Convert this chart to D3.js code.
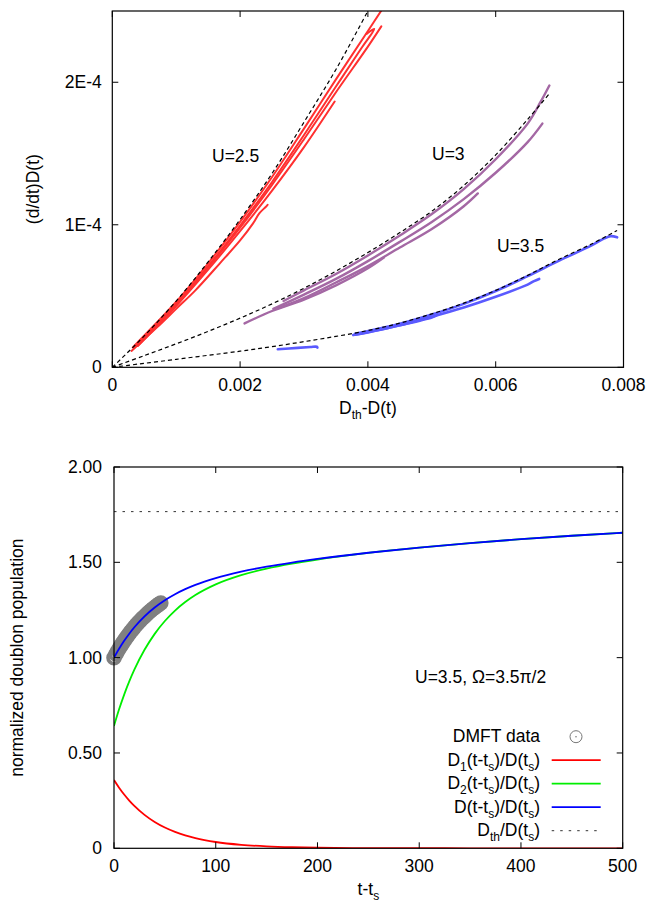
<!DOCTYPE html>
<html><head><meta charset="utf-8">
<script src="https://cdn.jsdelivr.net/npm/d3@7/dist/d3.min.js"></script>
<style>
body{margin:0;background:#fff}
svg{display:block}
text{font-family:"Liberation Sans",Arial,Helvetica,sans-serif;font-size:17.5px;fill:#000}
</style>
</head><body>
<svg id="c" width="646" height="903"></svg>
<script>
// ---------------- DATA (top panel: x = Dth-D(t), y = (d/dt)D(t) in units of 1E-5) ----------------
const topXTicks = [0, 0.002, 0.004, 0.006, 0.008];
const topXTickLabels = ["0", "0.002", "0.004", "0.006", "0.008"];
const topYTicks = [0, 10, 20];
const topYTickLabels = ["0", "1E-4", "2E-4"];

// fits (black dashed)
const fitU25 = [[0,0],[0.0005,2.2],[0.001,4.65],[0.0015,7.4],[0.002,10.37],[0.0025,13.6],[0.003,17.2],[0.0035,20.9],[0.004,25.0],[0.0042,26.7]];
const fitU3  = [[0,0],[0.0005,0.82],[0.001,1.65],[0.0015,2.52],[0.002,3.45],[0.0025,4.45],[0.003,5.55],[0.0035,6.75],[0.004,8.05],[0.0045,9.45],[0.005,10.95],[0.0055,12.75],[0.006,14.9],[0.0065,17.4],[0.00685,19.25]];
const fitU35 = [[0,0],[0.001,0.56],[0.002,1.13],[0.0025,1.45],[0.003,1.8],[0.0035,2.17],[0.004,2.58],[0.0045,3.1],[0.005,3.75],[0.0055,4.5],[0.006,5.4],[0.0065,6.45],[0.007,7.6],[0.0075,8.65],[0.0079,9.6]];

// DMFT curves U=2.5 (red)
const u25a = [[0.00032,1.4],[0.001,4.6],[0.0015,7.3],[0.002,10.2],[0.0025,13.35],[0.003,16.75],[0.0035,20.2],[0.004,23.6],[0.00425,25.3]];
const u25b = [[0.00035,1.4],[0.001,4.45],[0.0015,7.1],[0.002,9.95],[0.0025,13.0],[0.003,16.3],[0.0035,19.7],[0.0039,22.4],[0.0041,23.74],[0.00398,23.39]];
const u25c = [[0.0004,1.5],[0.001,4.4],[0.0015,7.0],[0.002,9.8],[0.0025,12.8],[0.003,16.0],[0.0035,19.3],[0.004,22.5],[0.00421,23.92]];
const u25d = [[0.0004,1.5],[0.001,4.3],[0.0015,6.85],[0.002,9.55],[0.0025,12.4],[0.003,15.45],[0.00348,18.65]];
const u25e = [[0.0003,1.15],[0.0007,2.8],[0.001,4.1],[0.0013,5.4],[0.00168,7.28],[0.002,8.9],[0.0022,10.08],[0.0023,10.8],[0.0024,11.25],[0.00243,11.4]];

// DMFT curves U=3 (purple)
const u3a = [[0.00268,4.65],[0.003,5.4],[0.0035,6.55],[0.004,7.85],[0.0045,9.25],[0.005,10.75],[0.0055,12.5],[0.006,14.6],[0.0065,17.1],[0.0067,18.6],[0.00684,19.77]];
const u3b = [[0.00252,4.1],[0.003,5.1],[0.0035,6.2],[0.004,7.45],[0.0045,8.8],[0.005,10.2],[0.0055,11.8],[0.006,13.65],[0.0065,15.8],[0.00673,17.1]];
const u3c = [[0.0026,4.15],[0.003,4.85],[0.0035,5.95],[0.004,7.1],[0.0045,8.4],[0.005,9.7],[0.0055,11.3],[0.00572,12.2]];
const u3d = [[0.00207,3.08],[0.0025,3.95],[0.003,4.75],[0.0035,5.75],[0.004,6.95],[0.00425,7.7]];

// DMFT curves U=3.5 (blue)
const u35a = [[0.00259,1.27],[0.0029,1.36],[0.0031,1.42],[0.0032,1.44],[0.00321,1.38]];
const u35b = [[0.00377,2.26],[0.004,2.45],[0.0045,2.95],[0.005,3.5],[0.00507,3.63]];
const u35c = [[0.0038,2.28],[0.0045,2.95],[0.005,3.55],[0.0055,4.2],[0.006,4.95],[0.0065,5.8],[0.0066,6.05],[0.00668,6.2]];
const u35d = [[0.0038,2.35],[0.0045,3.05],[0.005,3.7],[0.0055,4.45],[0.006,5.35],[0.0065,6.4],[0.007,7.5],[0.0075,8.55],[0.0077,9.05],[0.0078,9.2],[0.0079,9.12]];

// ---------------- DATA (bottom panel) ----------------
const botXTicks = [0, 100, 200, 300, 400, 500];
const botYTicks = [0, 0.5, 1.0, 1.5, 2.0];
const botYTickLabels = ["0", "0.50", "1.00", "1.50", "2.00"];
const tGrid   = [0, 5, 10, 15, 20, 30, 40, 50, 60, 70, 80, 100, 125, 150, 175, 200, 250, 300, 350, 400, 450, 500];
const d1Vals  = [0.358, 0.318, 0.282, 0.2505, 0.2224, 0.1753, 0.1381, 0.1089, 0.0858, 0.0676, 0.0533, 0.0331, 0.0183, 0.0101, 0.0055, 0.0031, 0.0009, 0.0003, 0.0001, 0, 0, 0];
const d2Vals  = [0.642, 0.7289, 0.8062, 0.8752, 0.9369, 1.0411, 1.1248, 1.1922, 1.2468, 1.2915, 1.3282, 1.3842, 1.4327, 1.4672, 1.4935, 1.5148, 1.5493, 1.5772, 1.6009, 1.6215, 1.6395, 1.6552];
const dVals   = [1.0, 1.0467, 1.0884, 1.1257, 1.1593, 1.2164, 1.2629, 1.3011, 1.3326, 1.3591, 1.3815, 1.4173, 1.451, 1.4773, 1.499, 1.5179, 1.5502, 1.5775, 1.601, 1.6215, 1.6395, 1.6552];
const dThRatio = 1.766;
const dmftT   = [0, 2, 4, 6, 8, 10, 12, 14, 16, 18, 20, 22, 24, 26, 28, 30, 32, 34, 36, 38, 40, 42, 44, 46];
const dmftV   = [1.0, 1.0193, 1.0377, 1.0554, 1.0723, 1.0884, 1.1041, 1.1188, 1.133, 1.1466, 1.1593, 1.172, 1.1839, 1.1953, 1.2062, 1.2164, 1.2268, 1.2366, 1.2458, 1.2547, 1.2629, 1.2715, 1.2795, 1.287];

// ---------------- DRAW ----------------
const svg = d3.select("#c");

// ===== top panel =====
const T = {l:112.3, r:623.5, t:11, b:367.3};
const xT = d3.scaleLinear().domain([0, 0.008]).range([T.l, T.r]);
const yT = d3.scaleLinear().domain([0, 25]).range([T.b, T.t]);

svg.append("clipPath").attr("id","clipT").append("rect")
  .attr("x",T.l).attr("y",T.t).attr("width",T.r-T.l).attr("height",T.b-T.t);

const lineT = d3.line().x(d=>xT(d[0])).y(d=>yT(d[1])).curve(d3.curveCatmullRom.alpha(0.5));
const gT = svg.append("g").attr("clip-path","url(#clipT)");

const topSeries = [
  {data:u25a,c:"#ff3030",w:2},{data:u25b,c:"#ff3030",w:2},{data:u25c,c:"#ff3030",w:2},{data:u25d,c:"#ff3030",w:2},{data:u25e,c:"#ff3030",w:2},
  {data:u3a,c:"#a468a4",w:2.4},{data:u3b,c:"#a468a4",w:2.4},{data:u3c,c:"#a468a4",w:2.4},{data:u3d,c:"#a468a4",w:2.4},
  {data:u35a,c:"#5a5aff",w:2.6},{data:u35b,c:"#5a5aff",w:2.6},{data:u35c,c:"#5a5aff",w:2.6},{data:u35d,c:"#5a5aff",w:2.6}
];
topSeries.forEach(s=>{
  gT.append("path").attr("d",lineT(s.data)).attr("fill","none").attr("stroke",s.c).attr("stroke-width",s.w).attr("stroke-linecap","round");
});
[fitU25, fitU3, fitU35].forEach(f=>{
  gT.append("path").attr("d",lineT(f)).attr("fill","none").attr("stroke","#000").attr("stroke-width",1.2).attr("stroke-dasharray","4,3");
});

// axes (inward ticks, mirrored)
function frame(P, xs, ys, xt, yt, xl, yl, yLabOff){
  svg.append("rect").attr("x",P.l).attr("y",P.t).attr("width",P.r-P.l).attr("height",P.b-P.t)
    .attr("fill","none").attr("stroke","#000").attr("stroke-width",1.2);
  const g = svg.append("g");
  xt.forEach((v,i)=>{
    const x = xs(v);
    g.append("line").attr("x1",x).attr("x2",x).attr("y1",P.b).attr("y2",P.b-6).attr("stroke","#000");
    g.append("line").attr("x1",x).attr("x2",x).attr("y1",P.t).attr("y2",P.t+6).attr("stroke","#000");
    g.append("text").attr("x",x).attr("y",P.b+24).attr("text-anchor","middle").text(xl[i]);
  });
  yt.forEach((v,i)=>{
    const y = ys(v);
    g.append("line").attr("x1",P.l).attr("x2",P.l+6).attr("y1",y).attr("y2",y).attr("stroke","#000");
    g.append("line").attr("x1",P.r).attr("x2",P.r-6).attr("y1",y).attr("y2",y).attr("stroke","#000");
    g.append("text").attr("x",P.l-yLabOff).attr("y",y+6).attr("text-anchor","end").text(yl[i]);
  });
}
frame(T, xT, yT, topXTicks, topYTicks, topXTickLabels, topYTickLabels, 10.5);

svg.append("text").attr("transform",`translate(39,${(T.t+T.b)/2}) rotate(-90)`).attr("text-anchor","middle").text("(d/dt)D(t)");
const xlabT = svg.append("text").attr("x",(T.l+T.r)/2).attr("y",T.b+47).attr("text-anchor","middle");
xlabT.append("tspan").text("D");
xlabT.append("tspan").attr("font-size","12px").attr("dy",5).text("th");
xlabT.append("tspan").attr("dy",-5).text("-D(t)");

svg.append("text").attr("x",212).attr("y",162).text("U=2.5");
svg.append("text").attr("x",432).attr("y",160).text("U=3");
svg.append("text").attr("x",497).attr("y",252).text("U=3.5");

// ===== bottom panel =====
const B = {l:114, r:622.7, t:467, b:848.3};
const xB = d3.scaleLinear().domain([0, 500]).range([B.l, B.r]);
const yB = d3.scaleLinear().domain([0, 2]).range([B.b, B.t]);

svg.append("clipPath").attr("id","clipB").append("rect")
  .attr("x",B.l).attr("y",B.t).attr("width",B.r-B.l).attr("height",B.b-B.t);
const gB = svg.append("g");

gB.append("line").attr("x1",B.l).attr("x2",B.r).attr("y1",yB(dThRatio)).attr("y2",yB(dThRatio))
  .attr("stroke","#333").attr("stroke-width",1).attr("stroke-dasharray","2.5,6");

dmftT.forEach((t,i)=>{
  gB.append("circle").attr("cx",xB(t)).attr("cy",yB(dmftV[i])).attr("r",6)
    .attr("fill","none").attr("stroke","#808080").attr("stroke-width",3.6);
});

const lineB = d3.line().x(d=>xB(d[0])).y(d=>yB(d[1])).curve(d3.curveMonotoneX);
const gBc = svg.append("g").attr("clip-path","url(#clipB)");
const mk = vals => tGrid.map((t,i)=>[t, vals[i]]);
gBc.append("path").attr("d",lineB(mk(d1Vals))).attr("fill","none").attr("stroke","#ff0000").attr("stroke-width",1.8);
gBc.append("path").attr("d",lineB(mk(d2Vals))).attr("fill","none").attr("stroke","#00ee00").attr("stroke-width",1.8);
gBc.append("path").attr("d",lineB(mk(dVals))).attr("fill","none").attr("stroke","#0000ff").attr("stroke-width",1.8);

frame(B, xB, yB, botXTicks, botYTicks, botXTicks.map(String), botYTickLabels, 12);

svg.append("text").attr("transform",`translate(23,${(B.t+B.b)/2}) rotate(-90)`).attr("text-anchor","middle").text("normalized doublon population");
const xlabB = svg.append("text").attr("x",(B.l+B.r)/2).attr("y",B.b+47).attr("text-anchor","middle");
xlabB.append("tspan").text("t-t");
xlabB.append("tspan").attr("font-size","12px").attr("dy",5).text("s");

svg.append("text").attr("x",415).attr("y",683).text("U=3.5, Ω=3.5π/2");

// legend
const legX = 540, legY0 = 736.7, legDy = 23.5, sx1 = 551.7, sx2 = 600.7;
svg.append("text").attr("x",legX).attr("y",legY0+5.5).attr("text-anchor","end").text("DMFT data");
svg.append("circle").attr("cx",576).attr("cy",legY0).attr("r",6).attr("fill","none").attr("stroke","#777").attr("stroke-width",1);
svg.append("circle").attr("cx",576).attr("cy",legY0).attr("r",0.8).attr("fill","#777");

const legItems = [
  {c:"#ff0000", dash:null, parts:[["D"],["1",5],["(t-t",-5],["s",5],[")/D(t",-5],["s",5],[")",-5]]},
  {c:"#00ee00", dash:null, parts:[["D"],["2",5],["(t-t",-5],["s",5],[")/D(t",-5],["s",5],[")",-5]]},
  {c:"#0000ff", dash:null, parts:[["D(t-t"],["s",5],[")/D(t",-5],["s",5],[")",-5]]},
  {c:"#333", dash:"2.5,6", parts:[["D"],["th",5],["/D(t",-5],["s",5],[")",-5]]}
];
legItems.forEach((it,i)=>{
  const y = legY0 + (i+1)*legDy;
  const t = svg.append("text").attr("x",legX).attr("y",y+5.5).attr("text-anchor","end");
  it.parts.forEach(p=>{
    const s = t.append("tspan").text(p[0]);
    if (p[1] !== undefined){
      s.attr("dy",p[1]);
      if (p[1] > 0) s.attr("font-size","12px");
    }
  });
  const ln = svg.append("line").attr("x1",sx1).attr("x2",sx2).attr("y1",y).attr("y2",y)
    .attr("stroke",it.c).attr("stroke-width", it.dash?1:1.8);
  if (it.dash) ln.attr("stroke-dasharray",it.dash);
});
</script>
</body></html>
